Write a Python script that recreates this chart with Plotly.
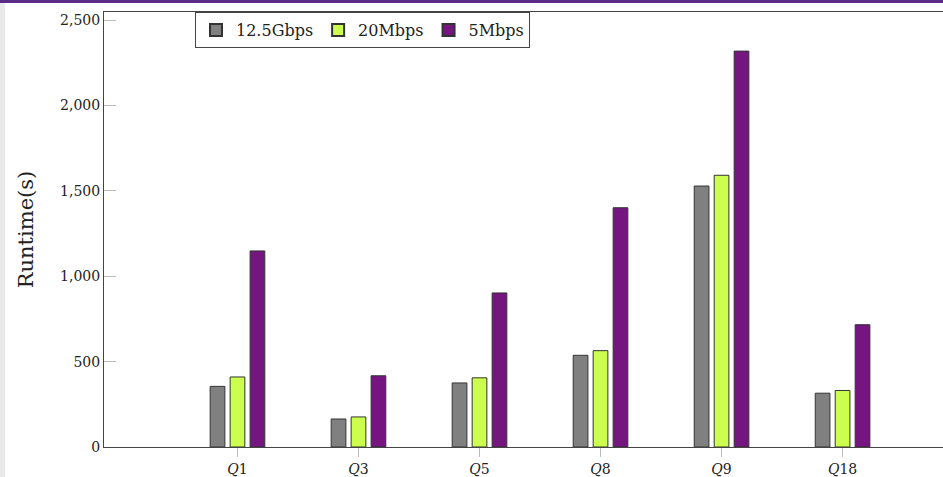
import plotly.graph_objects as go

categories = ["Q1", "Q3", "Q5", "Q8", "Q9", "Q18"]
tick_labels = ["<i>Q</i>1", "<i>Q</i>3", "<i>Q</i>5", "<i>Q</i>8", "<i>Q</i>9", "<i>Q</i>18"]
series_names = ["12.5Gbps", "20Mbps", "5Mbps"]
gbps_12_5 = [355, 164, 375, 537, 1528, 315]
mbps_20 = [410, 176, 405, 564, 1591, 331]
mbps_5 = [1148, 417, 902, 1401, 2318, 716]
series_values = [gbps_12_5, mbps_20, mbps_5]
colors = ["#808080", "#ccff4d", "#75157f"]

W, H = 943, 477
L, R, T, B = 104, 0, 12, 30
pw, ph = W - L - R, H - T - B

bar_w = 0.1215
pitch = 0.165

fig = go.Figure()
xs = list(range(len(categories)))
for k, (name, vals, col) in enumerate(zip(series_names, series_values, colors)):
    fig.add_trace(go.Bar(
        x=xs, y=vals, name=name,
        width=bar_w, offset=(k - 1) * pitch - bar_w / 2,
        marker=dict(color=col, line=dict(color="#333333", width=1)),
    ))

font_family = "DejaVu Serif"
fig.update_layout(
    width=W, height=H,
    margin=dict(l=L, r=R, t=T, b=B, pad=0),
    barmode="overlay",
    plot_bgcolor="white", paper_bgcolor="white",
    font=dict(family=font_family, color="#222222"),
    showlegend=True,
    legend=dict(
        orientation="h",
        x=(195 - L) / pw, y=1, xanchor="left", yanchor="top",
        bordercolor="#444444", borderwidth=1, bgcolor="white",
        font=dict(family=font_family, size=16, color="#222222"),
        itemsizing="constant",
    ),
    xaxis=dict(
        tickmode="array", tickvals=xs, ticktext=tick_labels,
        range=[-1.103, 5.83],
        showline=True, linecolor="#444444", linewidth=1, mirror=True,
        ticks="outside", ticklen=9, tickcolor="#bbbbbb",
        showgrid=False, zeroline=False,
        tickfont=dict(family=font_family, size=14, color="#222222"),
    ),
    yaxis=dict(
        range=[0, 2547],
        tickvals=[0, 500, 1000, 1500, 2000, 2500],
        tickformat=",d",
        showline=True, linecolor="#444444", linewidth=1, mirror=False,
        ticks="inside", ticklen=12, tickcolor="#bbbbbb",
        showgrid=False, zeroline=False,
        tickfont=dict(family=font_family, size=14, color="#222222"),
        title=dict(text="Runtime(s)", font=dict(family=font_family, size=21, color="#222222"), standoff=20),
    ),
)

# decorative edges of the screenshot (purple strip on top, gray strip on left)
def px_x(x):
    return (x - L) / pw

def px_y(y):
    return (T + ph - y) / ph

fig.add_shape(type="rect", xref="paper", yref="paper",
              x0=px_x(0), x1=px_x(W), y0=px_y(3), y1=px_y(0),
              fillcolor="#5b2a86", line=dict(width=0), layer="above")
fig.add_shape(type="rect", xref="paper", yref="paper",
              x0=px_x(0), x1=px_x(5), y0=px_y(H), y1=px_y(3),
              fillcolor="#e9e9e9", line=dict(width=0), layer="above")

fig.write_html(
    "out.html",
    config={"displayModeBar": False},
    post_script="document.body.style.margin='0';document.body.style.overflow='hidden';",
)
